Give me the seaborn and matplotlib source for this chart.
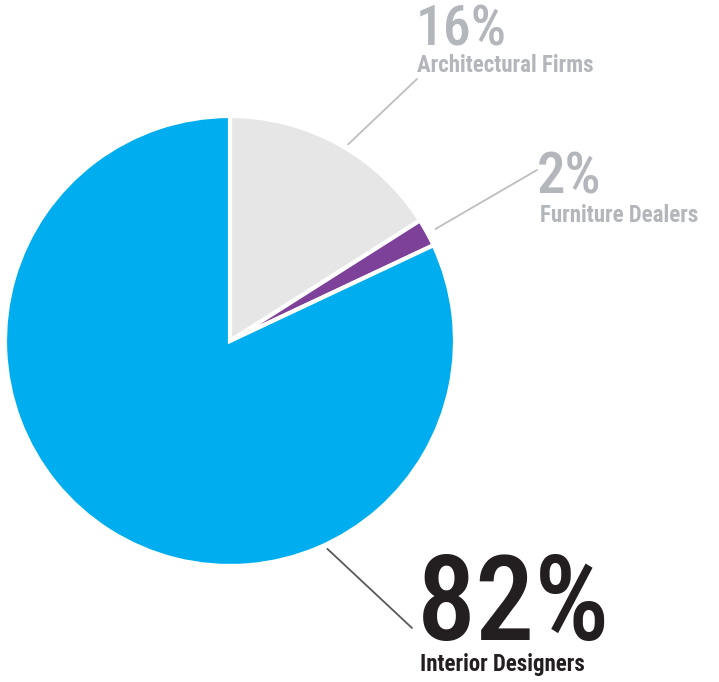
import matplotlib
matplotlib.use("Agg")
import matplotlib.pyplot as plt
import numpy as np
import seaborn as sns

# data
labels = ["Architectural Firms", "Furniture Dealers", "Interior Designers"]
shares = [16, 2, 82]
slice_colors = ["#e6e6e6", "#7d4199", "#00aeef"]
text_colors = ["#b3b6ba", "#b3b6ba", "#231f20"]
line_colors = ["#bcbec0", "#bcbec0", "#58595b"]

sns.set_theme(style="white")
plt.rcParams["font.family"] = ["Roboto Condensed", "DejaVu Sans"]

W, H = 719, 682
fig = plt.figure(figsize=(W / 100, H / 100), dpi=100)
fig.patch.set_facecolor("white")

# pie centred at (230, 341) px, radius 225 px
cx, cy, r = 230, 341, 225
ax = fig.add_axes([(cx - r) / W, (H - cy - r) / H, 2 * r / W, 2 * r / H])
ax.pie(shares, colors=slice_colors, startangle=90, counterclock=False,
       wedgeprops=dict(edgecolor="white", linewidth=3))
ax.set_xlim(-1, 1)
ax.set_ylim(-1, 1)
ax.set_aspect("equal")
ax.axis("off")

# leader lines: start angle (deg), start radius, end point in px
leader_start = [(59, 1.02), (28.6, 1.04), (-64.9, 1.02)]
leader_end = [(417, 79), (537, 170), (412, 628)]
for (ang, rr), (ex, ey), lc in zip(leader_start, leader_end, line_colors):
    a = np.deg2rad(ang)
    ax.annotate("", xy=(rr * np.cos(a), rr * np.sin(a)), xycoords="data",
                xytext=(ex / W, 1 - ey / H), textcoords="figure fraction",
                arrowprops=dict(arrowstyle="-", color=lc, lw=1.3,
                                shrinkA=0, shrinkB=0))

# big percentages and category names
pct_pos = [(416, 45, 40), (537, 194, 41), (417, 640, 85)]
name_pos = [(417, 72, 16.5), (540, 222, 16.5), (420, 671, 16.5)]
for i in range(len(shares)):
    px, py, fs = pct_pos[i]
    fig.text(px / W, 1 - py / H, f"{shares[i]}%", fontsize=fs,
             fontweight="medium", color=text_colors[i], ha="left", va="baseline")
    nx, ny, nfs = name_pos[i]
    fig.text(nx / W, 1 - ny / H, labels[i], fontsize=nfs,
             fontweight="bold", color=text_colors[i], ha="left", va="baseline")

fig.savefig("out.png", dpi=100, facecolor="white")
